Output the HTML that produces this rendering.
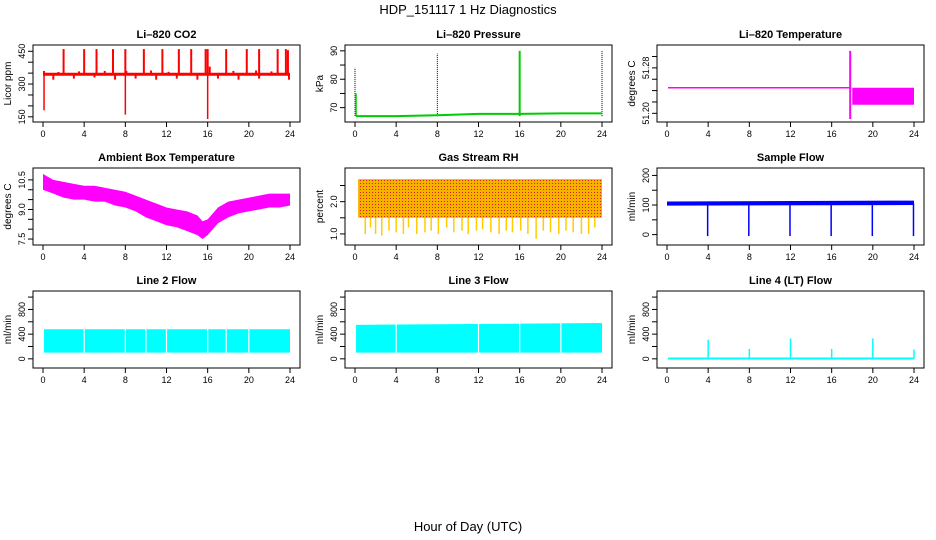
<!DOCTYPE html>
<html><head><meta charset="utf-8"><style>
body{margin:0;background:#fff;}
svg{display:block;font-family:"Liberation Sans",Arial,sans-serif;}
</style></head><body>
<svg id="c" width="936" height="540" viewBox="0 0 936 540">
<text x="468" y="14" text-anchor="middle" font-size="13">HDP_151117  1 Hz Diagnostics</text>
<text x="468" y="531" text-anchor="middle" font-size="13">Hour of Day (UTC)</text>
</svg>
<script>
const xTicks=[0,4,8,12,16,20,24];
// CO2
const co2Base=[[0,345],[24,345]];
const co2Up=[[0.1,360],[2,460],[4,460],[5.2,460],[6.8,460],[8,460],[8.1,360],[9.8,460],[11.6,460],[13.2,460],[14.4,460],[15.8,460],[16,460],[16.2,380],[17.8,460],[19.8,460],[21,460],[22.8,460],[23.6,460],[23.8,455],[1.5,355],[3.5,358],[6,360],[10.5,362],[12.2,356],[18.5,360],[20.7,362],[22.2,358]];
const co2Down=[[0.1,180],[8,160],[16,140],[1,320],[3,325],[5,330],[7,320],[9,325],[11,320],[13,325],[15,320],[17,325],[19,320],[21,325],[23.9,320]];
// Pressure
const presBase=[[0.1,67],[4,67],[8,67.3],[12,67.8],[16,67.8],[20,68],[24,68]];
const presSpike=[[0,84],[8,89],[16,90],[24,90]];
// Li-820 temperature
const tempFlat=[[0.1,51.245],[17.9,51.245]];
const tempBand=[[18,51.215,51.245],[24,51.215,51.245]];
const tempSpike=[[17.8,51.19,51.31]];
// Ambient box temperature
const ambHours=[0,1,2,3,4,5,6,7,8,9,10,11,12,13,14,15,15.5,16,17,18,19,20,21,22,23,24];
const ambLow=[10.0,9.8,9.6,9.5,9.5,9.4,9.4,9.2,9.1,8.9,8.6,8.4,8.2,8.1,7.9,7.7,7.5,7.7,8.3,8.6,8.8,8.9,9.0,9.1,9.1,9.2];
const ambHigh=[10.8,10.5,10.4,10.3,10.2,10.2,10.1,10.0,9.9,9.7,9.5,9.3,9.1,9.0,8.9,8.7,8.4,8.5,9.1,9.4,9.5,9.6,9.7,9.8,9.8,9.8];
// RH
const rhBand=[[0.3,1.5,2.7],[24,1.5,2.7]];
const rhDips=[1,1.5,2,2.6,3.3,4,4.7,5.2,6,6.8,7.4,8.1,8.9,9.6,10.4,11,11.8,12.4,13.2,14,14.7,15.3,16.1,16.8,17.6,18.3,19,19.8,20.5,21.2,22,22.7,23.3];
const rhDipVal=[1.0,1.2,1.0,0.95,1.1,1.05,1.0,1.2,1.0,1.05,1.1,1.0,1.2,1.05,1.1,1.0,1.1,1.15,1.05,1.0,1.1,1.05,1.1,1.0,0.85,1.1,1.05,1.0,1.1,1.05,1.0,1.0,1.2];
// Sample flow
const sfBand=[[0,98,112],[24,100,115]];
const sfDips=[4,8,12,16,20,24];
// Line flows
const l2Band=[[0.1,100,480],[24,100,480]];
const l2Gaps=[4,8,10,12,16,17.8,20];
const l3Band=[[0.1,100,550],[24,100,580]];
const l3Gaps=[4,12,16,20];
const l4Spikes=[[4,310],[8,160],[12,330],[16,160],[20,330],[24,150]];

const svg=document.getElementById('c');
const NS='http://www.w3.org/2000/svg';
function el(tag,attrs,parent){const e=document.createElementNS(NS,tag);for(const k in attrs)e.setAttribute(k,attrs[k]);(parent||svg).appendChild(e);return e;}
const colX=[33,345,657], rowY=[45,168,291], BW=267, BH=77;
function panel(col,row,title,ylab,ymin,ymax,yt,ylabels,name){
  const g=el('g',{});
  
  
  const x0=colX[col],y0=rowY[row];
  const sx=h=>x0+10+h*(247/24);
  const sy=v=>y0+BH-3-(v-ymin)/(ymax-ymin)*(BH-6);
  const t=el('text',{x:x0+BW/2,y:y0-7,'text-anchor':'middle','font-size':11,'font-weight':'bold'},g);t.textContent=title;
  
  const b=el('rect',{x:x0,y:y0,width:BW,height:BH,fill:'none',stroke:'#000','stroke-width':1},g);
  
  xTicks.forEach(h=>{el('line',{x1:sx(h),x2:sx(h),y1:y0+BH,y2:y0+BH+5,stroke:'#000'},g);
    const tx=el('text',{x:sx(h),y:y0+BH+15,'text-anchor':'middle','font-size':9},g);tx.textContent=h;
    });
  yt.forEach(v=>{el('line',{x1:x0-5,x2:x0,y1:sy(v),y2:sy(v),stroke:'#000'},g);});
  ylabels.forEach(v=>{const s=typeof v==='number'?String(v):v;const val=parseFloat(s);
    const tx=el('text',{x:0,y:0,'text-anchor':'middle','font-size':9,transform:`translate(${x0-8},${sy(val)}) rotate(-90)`},g);tx.textContent=s;
    });
  const yl=el('text',{x:0,y:0,'text-anchor':'middle','font-size':10,transform:`translate(${x0-22},${y0+BH/2}) rotate(-90)`},g);yl.textContent=ylab;
  
  return {g,sx,sy};
}
function vline(p,h,a,b,c,w,n){const l=el('line',{x1:p.sx(h),x2:p.sx(h),y1:p.sy(a),y2:p.sy(b),stroke:c,'stroke-width':w||1},p.g);return l;}
function pline(p,pts,c,w,n){const l=el('polyline',{points:pts.map(q=>p.sx(q[0])+','+p.sy(q[1])).join(' '),fill:'none',stroke:c,'stroke-width':w||1},p.g);return l;}
function band(p,pts,c,n){const up=pts.map(q=>p.sx(q[0])+','+p.sy(q[2]));const lo=pts.slice().reverse().map(q=>p.sx(q[0])+','+p.sy(q[1]));
  const e=el('polygon',{points:up.concat(lo).join(' '),fill:c},p.g);return e;}

// CO2
let p=panel(0,0,'Li\u2013820 CO2','Licor ppm',140,465,[150,200,250,300,350,400,450],[150,300,450],'co2');
co2Up.forEach(q=>vline(p,q[0],345,q[1],'#f00',2,'co2-spike'));
co2Down.forEach(q=>vline(p,q[0],345,q[1],'#f00',q[1]<250?1.5:2,'co2-spike'));
pline(p,co2Base,'#f00',3,'co2-line');
// Pressure
p=panel(1,0,'Li\u2013820 Pressure','kPa',66,91,[70,75,80,85,90],[70,80,90],'pressure');
presSpike.forEach(q=>{const l=vline(p,q[0],67,q[1],q[0]==16?'#0c0':'#000',q[0]==16?2:1,'pressure-spike');if(q[0]!=16)l.setAttribute('stroke-dasharray','1,1');});
vline(p,0.1,67,75,'#0c0',1.5,'pressure-spike');
pline(p,presBase,'#0c0',2,'pressure-line');
// Temp
p=panel(2,0,'Li\u2013820 Temperature','degrees C',51.19,51.315,[51.20,51.22,51.24,51.26,51.28,51.30],['51.20','51.28'],'li820-temp');
pline(p,tempFlat,'#f0f',1.5,'li820-temp-line');
band(p,tempBand,'#f0f','li820-temp-band');
tempSpike.forEach(q=>vline(p,q[0],q[1],q[2],'#f0f',2,'li820-temp-spike'));
// Ambient
p=panel(0,1,'Ambient Box Temperature','degrees C',7.35,10.95,[7.5,8,8.5,9,9.5,10,10.5],['7.5','9.0','10.5'],'ambient');
band(p,ambHours.map((h,i)=>[h,ambLow[i],ambHigh[i]]),'#f0f','ambient-band');
// RH
p=panel(1,1,'Gas Stream RH','percent',0.75,2.95,[1.0,1.5,2.0,2.5],['1.0','2.0'],'rh');
rhDips.forEach((h,i)=>vline(p,h,1.6,rhDipVal[i],'#fc0',1.5,'rh-dip'));
band(p,rhBand,'#f5b000','rh-band');
const pat=el('pattern',{id:'dots',width:3,height:3,patternUnits:'userSpaceOnUse'});
el('rect',{x:0,y:0,width:1,height:1,fill:'#e02020'},pat);svg.appendChild(pat);
band(p,rhBand,'url(#dots)','rh-band-dots');
// Sample flow
p=panel(2,1,'Sample Flow','ml/min',-25,215,[0,50,100,150,200],[0,100,200],'sample-flow');
band(p,sfBand,'#00f','sample-flow-band');
sfDips.forEach(h=>vline(p,h-0.05,105,-5,'#00f',1.5,'sample-flow-dip'));
// Line 2
p=panel(0,2,'Line 2 Flow','ml/min',-100,1050,[0,200,400,600,800,1000],[0,400,800],'line2-flow');
band(p,l2Band,'#0ff','line2-band');
l2Gaps.forEach(h=>vline(p,h,90,500,'#fff',1.2,'line2-gap'));
// Line 3
p=panel(1,2,'Line 3 Flow','ml/min',-100,1050,[0,200,400,600,800,1000],[0,400,800],'line3-flow');
band(p,l3Band,'#0ff','line3-band');
l3Gaps.forEach(h=>vline(p,h,60,600,'#fff',1.2,'line3-gap'));
// Line 4
p=panel(2,2,'Line 4 (LT) Flow','ml/min',-100,1050,[0,200,400,600,800,1000],[0,400,800],'line4-flow');
pline(p,[[0.1,5],[24,5]],'#0ff',2,'line4-line');
l4Spikes.forEach(q=>vline(p,q[0],5,q[1],'#0ff',1.5,'line4-spike'));
</script>
</body></html>
